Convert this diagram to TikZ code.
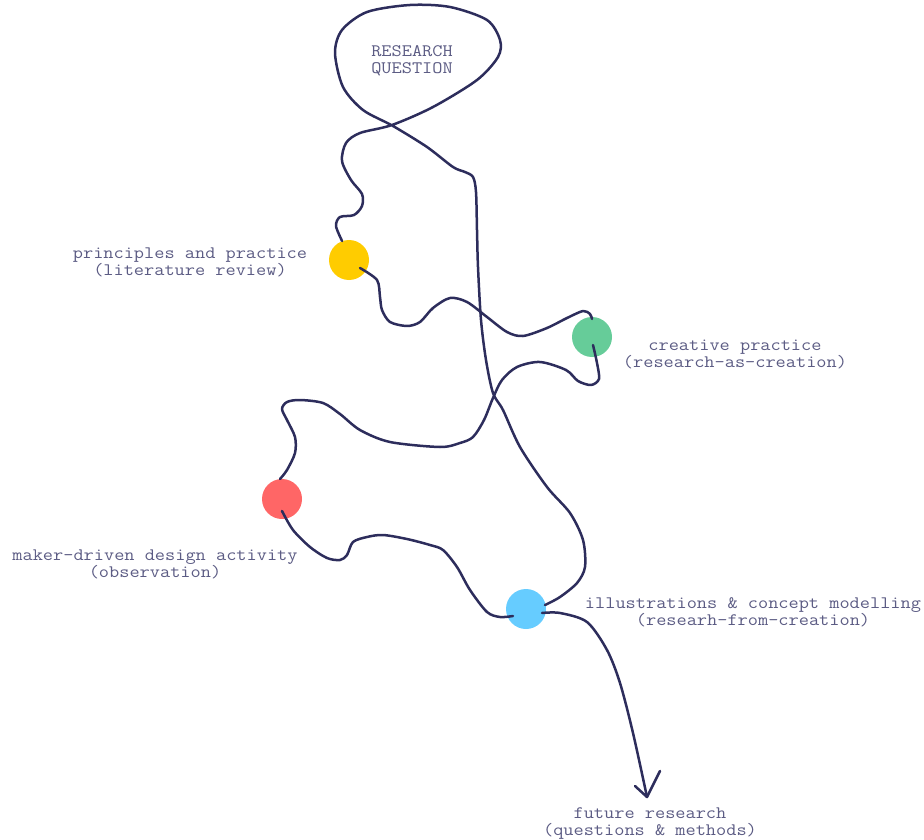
\documentclass[tikz,border=0pt]{standalone}
\usepackage{fontspec}
\setmonofont{Latin Modern Mono}[FakeStretch=1.13]
\usetikzlibrary{calc}
\definecolor{ink}{HTML}{2D2D5C}
\definecolor{notegray}{HTML}{5C5C84}
\definecolor{sunny}{HTML}{FFCC00}
\definecolor{mint}{HTML}{66CC99}
\definecolor{coral}{HTML}{FF6666}
\definecolor{sky}{HTML}{66CCFF}
\begin{document}
\begin{tikzpicture}[x=1pt, y=-1pt,
  stop/.style={circle, inner sep=0pt, minimum size=40pt},
  note/.style={align=center, text=notegray, font=\ttfamily\fontsize{17.5}{17}\selectfont},
  thread/.style={draw=ink, line width=2.5pt, line cap=round, line join=round}]
\useasboundingbox (0,0) rectangle (924,840);
\node[stop, fill=sunny] (lit) at (349,260) {};
\node[stop, fill=mint] (prac) at (592,337) {};
\node[stop, fill=coral] (make) at (282,499) {};
\node[stop, fill=sky] (model) at (526,609) {};
\coordinate (tip) at (647,797);
\node[note] (rq) at (412,61) {RESEARCH\\QUESTION};
\node[note] (litnote) at (190,262) {principles and practice\\(literature review)};
\node[note] (pracnote) at (735,354) {creative practice\\(research-as-creation)};
\node[note] (makenote) at (155,564) {maker-driven design activity\\(observation)};
\node[note] (modelnote) at (753,612) {illustrations \& concept modelling\\(researh-from-creation)};
\node[note] (future) at (650,824) {future research\\(questions \& methods)};
\draw[thread] plot[smooth] coordinates {(lit.110) (336,226) (340,217) (354,215) (362,206)
  (362,194) (351,180) (342,161) (346,143) (360,133) (392,125) (433,107) (477,80) (498,57)
  (500,40) (487,20) (450,7) (410,5) (367,12) (342,30) (335,53) (343,87) (363,110) (393,126)
  (427,147) (453,167) (465,172) (473,177) (476,192) (477,230) (478,267) (481,320) (486,360)
  (493,393) (503,410) (520,447) (547,487) (570,513) (583,540) (585,567) (577,583) (560,597)
  ($(model)+(19,-4)$)};
\draw[thread] plot[smooth] coordinates {($(lit)+(11,8)$) (377,280) (380,297) (382,310)
  (390,322) (407,326) (420,322) (433,308) (450,298) (467,302) (487,317) (507,332) (523,336)
  (547,328) (567,318) (583,311) (590,314) ($(prac)+(0,-18)$)};
\draw[thread] plot[smooth] coordinates {($(prac)+(1,8)$) (597,363) (599,379) (591,385)
  (578,381) (566,370) (540,362) (517,367) (502,380) (493,398) (484,420) (473,437) (460,443)
  (440,447) (390,442) (360,430) (340,414) (323,403) (300,400) (287,402) (282,409) (287,420)
  (295,437) (295,453) (287,470) ($(make)+(-2,-20)$)};
\draw[thread] plot[smooth] coordinates {($(make)+(0,12)$) (293,530) (310,547) (327,558)
  (340,560) (347,555) (353,542) (367,537) (383,535) (407,539) (430,545) (443,550) (457,567)
  (470,590) (487,612) (500,617) ($(model)+(-13,7)$)};
\draw[thread] plot[smooth] coordinates {($(model)+(16,4)$) (560,613) (587,622) (607,650)
  (620,683) (633,733) (tip)};
\draw[thread] ($(tip)+(-12,-11)$) -- (tip) -- ($(tip)+(13,-26)$);
\end{tikzpicture}
\end{document}
